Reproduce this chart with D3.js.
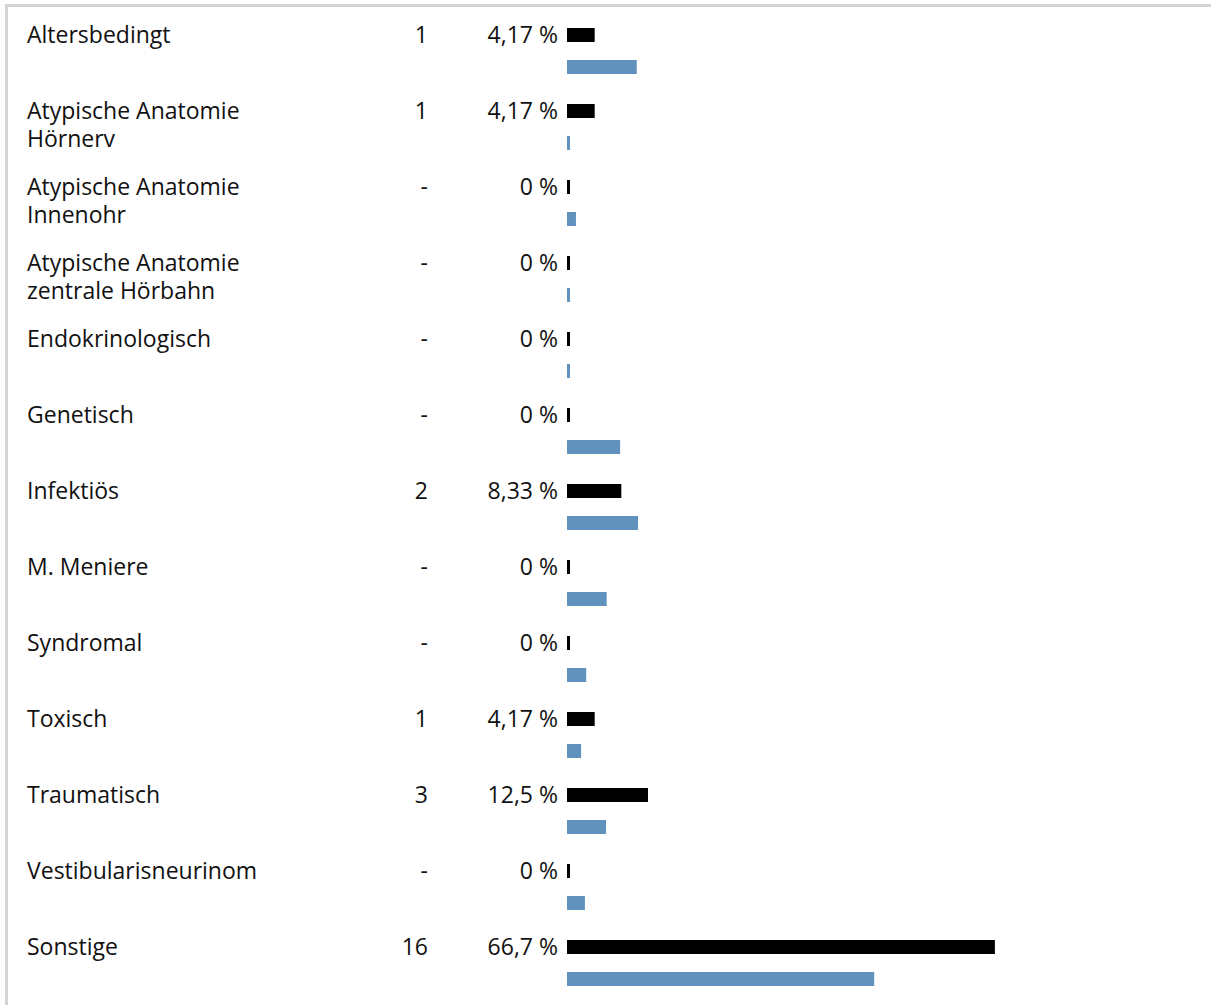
<!DOCTYPE html>
<html>
<head>
<meta charset="utf-8">
<script src="https://cdn.jsdelivr.net/npm/d3@7"></script>
<style>
  html, body { margin: 0; padding: 0; background: #fff; }
  svg { display: block; }
  text { font-family: "Open Sans", "Noto Sans", sans-serif; fill: #111; }
</style>
</head>
<body>
<svg id="chart" width="1211" height="1005"></svg>
<script>
// Ursachen: Kategorie, Anzahl, Anteil (%) und Vergleichswert (%)
const categories = [
  "Altersbedingt",
  "Atypische Anatomie\nHörnerv",
  "Atypische Anatomie\nInnenohr",
  "Atypische Anatomie\nzentrale Hörbahn",
  "Endokrinologisch",
  "Genetisch",
  "Infektiös",
  "M. Meniere",
  "Syndromal",
  "Toxisch",
  "Traumatisch",
  "Vestibularisneurinom",
  "Sonstige"
];
const counts = [1, 1, null, null, null, null, 2, null, null, 1, 3, null, 16];
const shares = [4.17, 4.17, 0, 0, 0, 0, 8.33, 0, 0, 4.17, 12.5, 0, 66.7];
const comparison = [10.9, 0.4, 1.4, 0.4, 0.4, 8.3, 11.1, 6.2, 3.0, 2.2, 6.1, 2.8, 48.0];

const svg = d3.select("#chart");
const W = 1211, H = 1005;

// frame: top and left rule
svg.append("line").attr("x1", 5).attr("x2", W).attr("y1", 5.5).attr("y2", 5.5)
  .attr("stroke", "#d4d4d4").attr("stroke-width", 3);
svg.append("line").attr("x1", 6.5).attr("x2", 6.5).attr("y1", 4).attr("y2", H)
  .attr("stroke", "#d4d4d4").attr("stroke-width", 3);

const rowTop = 9, rowStep = 76;
const y = d3.scaleBand()
  .domain(d3.range(categories.length))
  .range([rowTop, rowTop + rowStep * categories.length])
  .paddingInner(0).paddingOuter(0);

const barX0 = 567;
const x = d3.scaleLinear().domain([0, 100]).range([0, 640]);
const minW = 3;
const barH = 14;

const fmtPct = v => {
  if (v === 0) return "0 %";
  return d3.format(".3~")(v).replace(".", ",") + " %";
};

const rows = svg.selectAll("g.row")
  .data(categories.map((c, i) => ({ c, i, n: counts[i], p: shares[i], r: comparison[i] })))
  .join("g")
  .attr("class", "row")
  .attr("transform", d => `translate(0,${y(d.i)})`);

const fontSize = 23;
const baseline = 34;

// category label (may span two lines)
rows.append("text")
  .attr("x", 27)
  .attr("y", baseline)
  .attr("font-size", fontSize)
  .each(function (d) {
    const lines = d.c.split("\n");
    d3.select(this).selectAll("tspan")
      .data(lines)
      .join("tspan")
      .attr("x", 27)
      .attr("dy", (l, k) => k === 0 ? 0 : 28)
      .text(l => l);
  });

// count
rows.append("text")
  .attr("x", 428)
  .attr("y", baseline)
  .attr("text-anchor", "end")
  .attr("font-size", fontSize)
  .text(d => d.n == null ? "-" : d.n);

// share in percent
rows.append("text")
  .attr("x", 558)
  .attr("y", baseline)
  .attr("text-anchor", "end")
  .attr("font-size", fontSize)
  .text(d => fmtPct(d.p));

// share bar (black)
rows.append("rect")
  .attr("x", barX0)
  .attr("y", 19)
  .attr("height", barH)
  .attr("width", d => Math.max(minW, x(d.p) + 1))
  .attr("fill", "#000");

// comparison bar (blue)
rows.append("rect")
  .attr("x", barX0)
  .attr("y", 51)
  .attr("height", barH)
  .attr("width", d => Math.max(minW, x(d.r)))
  .attr("fill", "#6192bd");
</script>
</body>
</html>
